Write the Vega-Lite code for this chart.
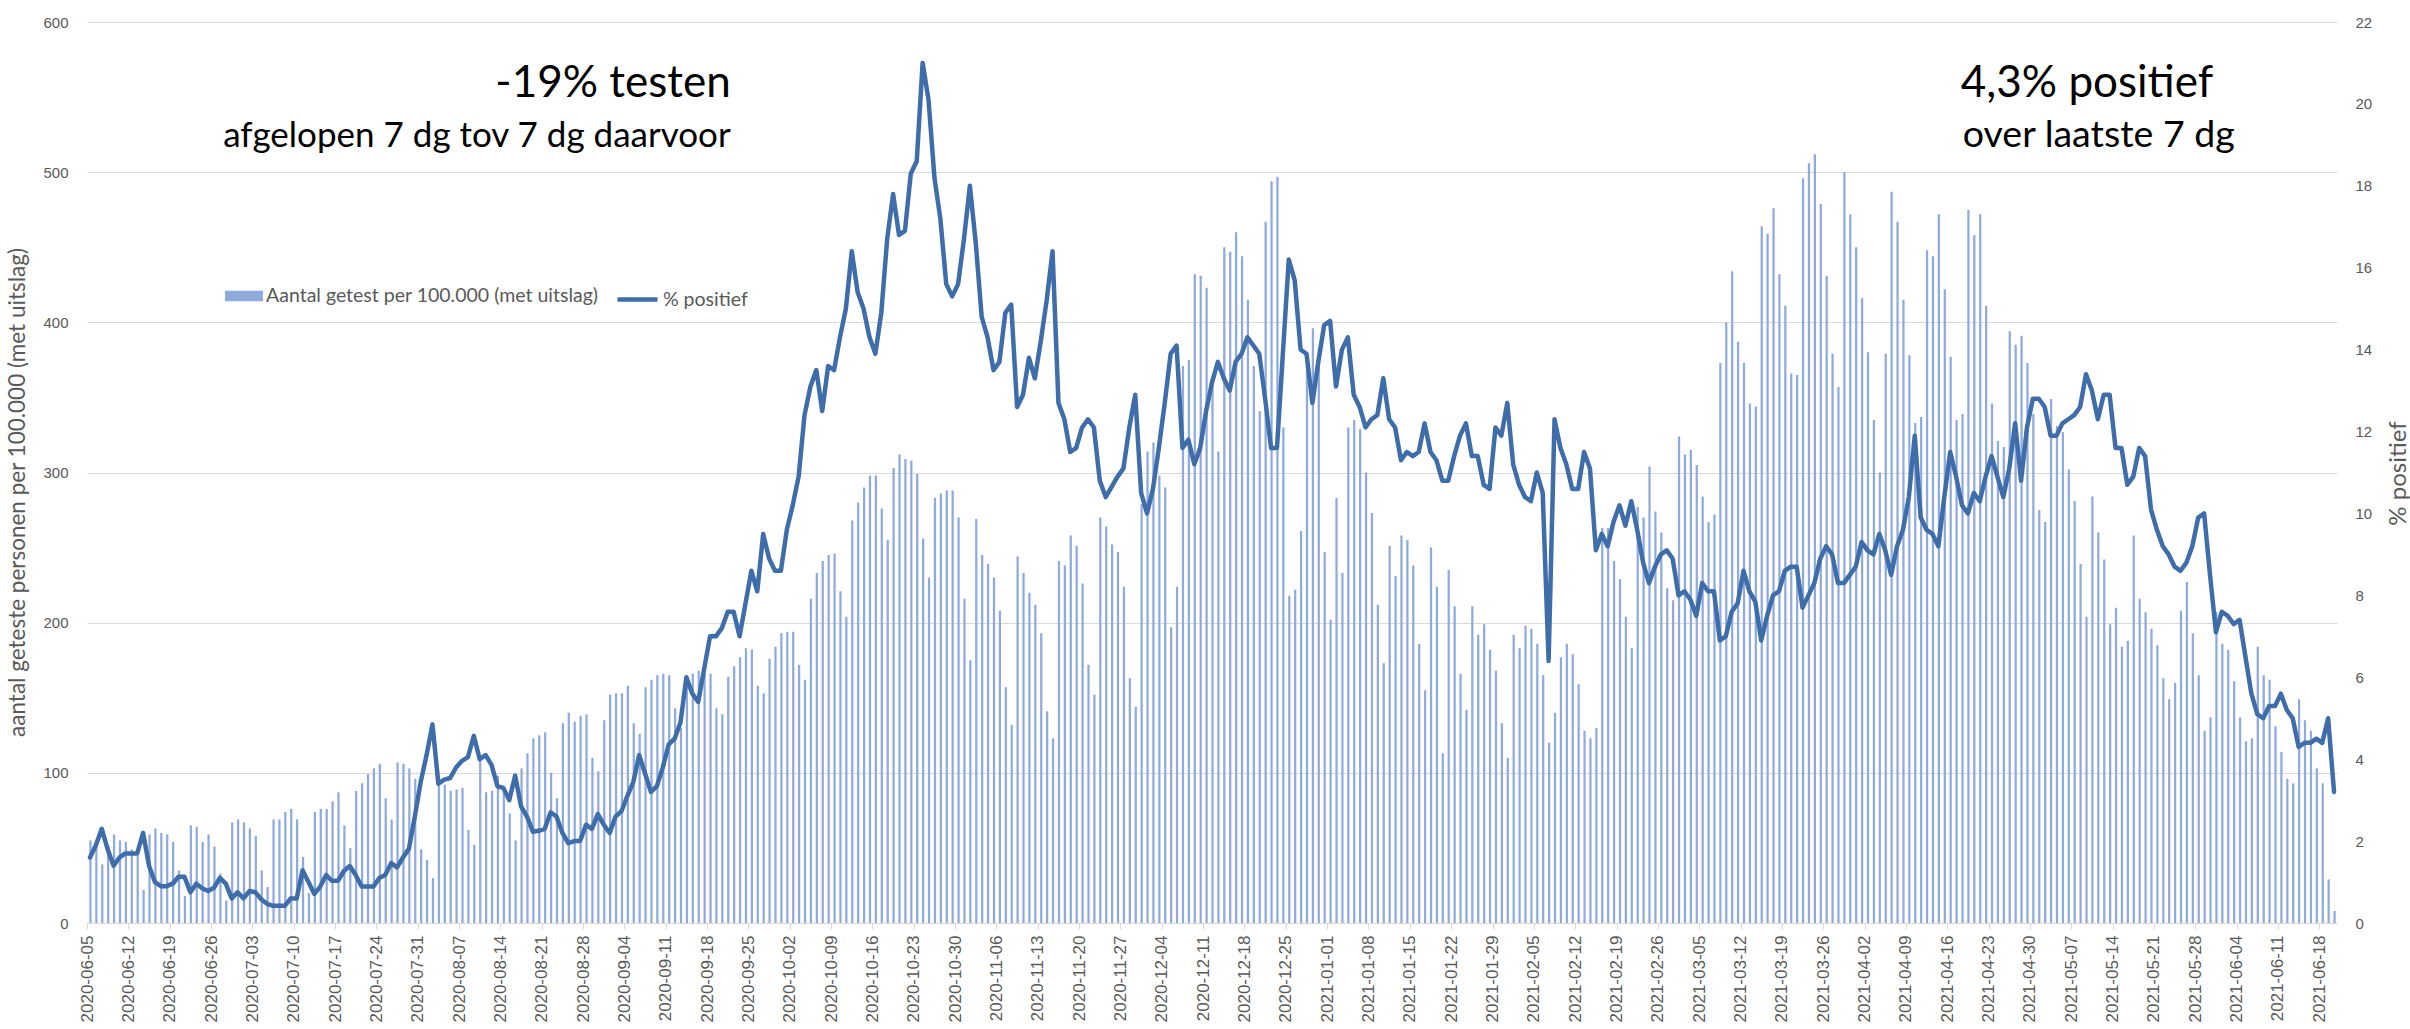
{
"$schema": "https://vega.github.io/schema/vega-lite/v6.json",
"width": 2250, "height": 901,
"autosize": {"type": "none"},
"padding": {"left": 87, "top": 22, "right": 73, "bottom": 106},
"background": "#ffffff",
"config": {"view": {"stroke": null}},
"datasets": {"dagen": [
{"datum":"2020-06-05","getest":55,"pos":1.6},{"datum":"2020-06-06","getest":52,"pos":1.9},{"datum":"2020-06-07","getest":39,"pos":2.3},{"datum":"2020-06-08","getest":52,"pos":1.8},{"datum":"2020-06-09","getest":59,"pos":1.4},{"datum":"2020-06-10","getest":55,"pos":1.6},{"datum":"2020-06-11","getest":54,"pos":1.7},{"datum":"2020-06-12","getest":49,"pos":1.7},{"datum":"2020-06-13","getest":45,"pos":1.7},{"datum":"2020-06-14","getest":22,"pos":2.2},
{"datum":"2020-06-15","getest":59,"pos":1.4},{"datum":"2020-06-16","getest":63,"pos":1.0},{"datum":"2020-06-17","getest":60,"pos":0.9},{"datum":"2020-06-18","getest":59,"pos":0.9},{"datum":"2020-06-19","getest":54,"pos":0.96},{"datum":"2020-06-20","getest":35,"pos":1.13},{"datum":"2020-06-21","getest":18,"pos":1.13},{"datum":"2020-06-22","getest":65,"pos":0.75},{"datum":"2020-06-23","getest":64,"pos":0.96},{"datum":"2020-06-24","getest":54,"pos":0.85},
{"datum":"2020-06-25","getest":59,"pos":0.78},{"datum":"2020-06-26","getest":51,"pos":0.86},{"datum":"2020-06-27","getest":33,"pos":1.1},{"datum":"2020-06-28","getest":15,"pos":0.96},{"datum":"2020-06-29","getest":67,"pos":0.6},{"datum":"2020-06-30","getest":69,"pos":0.75},
{"datum":"2020-07-01","getest":67,"pos":0.6},{"datum":"2020-07-02","getest":63,"pos":0.78},{"datum":"2020-07-03","getest":58,"pos":0.75},{"datum":"2020-07-04","getest":35,"pos":0.58},{"datum":"2020-07-05","getest":24,"pos":0.47},{"datum":"2020-07-06","getest":69,"pos":0.42},{"datum":"2020-07-07","getest":69,"pos":0.42},{"datum":"2020-07-08","getest":74,"pos":0.42},{"datum":"2020-07-09","getest":76,"pos":0.6},{"datum":"2020-07-10","getest":69,"pos":0.6},
{"datum":"2020-07-11","getest":44,"pos":1.29},{"datum":"2020-07-12","getest":20,"pos":1.0},{"datum":"2020-07-13","getest":74,"pos":0.71},{"datum":"2020-07-14","getest":76,"pos":0.89},{"datum":"2020-07-15","getest":76,"pos":1.17},{"datum":"2020-07-16","getest":81,"pos":1.03},{"datum":"2020-07-17","getest":87,"pos":1.03},{"datum":"2020-07-18","getest":65,"pos":1.27},{"datum":"2020-07-19","getest":50,"pos":1.39},{"datum":"2020-07-20","getest":88,"pos":1.17},
{"datum":"2020-07-21","getest":93,"pos":0.89},{"datum":"2020-07-22","getest":99,"pos":0.89},{"datum":"2020-07-23","getest":103,"pos":0.89},{"datum":"2020-07-24","getest":106,"pos":1.1},{"datum":"2020-07-25","getest":83,"pos":1.17},{"datum":"2020-07-26","getest":69,"pos":1.46},{"datum":"2020-07-27","getest":107,"pos":1.36},{"datum":"2020-07-28","getest":106,"pos":1.6},{"datum":"2020-07-29","getest":103,"pos":1.81},{"datum":"2020-07-30","getest":96,"pos":2.59},
{"datum":"2020-07-31","getest":49,"pos":3.44},
{"datum":"2020-08-01","getest":42,"pos":4.1},{"datum":"2020-08-02","getest":30,"pos":4.85},{"datum":"2020-08-03","getest":92,"pos":3.4},{"datum":"2020-08-04","getest":92,"pos":3.5},{"datum":"2020-08-05","getest":88,"pos":3.54},{"datum":"2020-08-06","getest":89,"pos":3.8},{"datum":"2020-08-07","getest":90,"pos":3.96},{"datum":"2020-08-08","getest":62,"pos":4.05},{"datum":"2020-08-09","getest":52,"pos":4.57},
{"datum":"2020-08-10","getest":108,"pos":4.0},{"datum":"2020-08-11","getest":87,"pos":4.1},{"datum":"2020-08-12","getest":88,"pos":3.86},{"datum":"2020-08-13","getest":98,"pos":3.34},{"datum":"2020-08-14","getest":87,"pos":3.3},{"datum":"2020-08-15","getest":73,"pos":3.0},{"datum":"2020-08-16","getest":55,"pos":3.6},{"datum":"2020-08-17","getest":103,"pos":2.85},{"datum":"2020-08-18","getest":113,"pos":2.6},{"datum":"2020-08-19","getest":123,"pos":2.23},
{"datum":"2020-08-20","getest":125,"pos":2.25},{"datum":"2020-08-21","getest":127,"pos":2.3},{"datum":"2020-08-22","getest":100,"pos":2.7},{"datum":"2020-08-23","getest":83,"pos":2.6},{"datum":"2020-08-24","getest":133,"pos":2.2},{"datum":"2020-08-25","getest":140,"pos":1.95},{"datum":"2020-08-26","getest":134,"pos":2.0},{"datum":"2020-08-27","getest":138,"pos":2.0},{"datum":"2020-08-28","getest":139,"pos":2.4},{"datum":"2020-08-29","getest":110,"pos":2.3},
{"datum":"2020-08-30","getest":101,"pos":2.66},{"datum":"2020-08-31","getest":135,"pos":2.4},
{"datum":"2020-09-01","getest":152,"pos":2.2},{"datum":"2020-09-02","getest":153,"pos":2.6},{"datum":"2020-09-03","getest":153,"pos":2.73},{"datum":"2020-09-04","getest":158,"pos":3.1},{"datum":"2020-09-05","getest":133,"pos":3.44},{"datum":"2020-09-06","getest":126,"pos":4.1},{"datum":"2020-09-07","getest":157,"pos":3.65},{"datum":"2020-09-08","getest":162,"pos":3.2},
{"datum":"2020-09-09","getest":165,"pos":3.34},{"datum":"2020-09-10","getest":166,"pos":3.8},{"datum":"2020-09-11","getest":165,"pos":4.36},{"datum":"2020-09-12","getest":143,"pos":4.5},{"datum":"2020-09-13","getest":130,"pos":4.9},{"datum":"2020-09-14","getest":157,"pos":6.0},{"datum":"2020-09-15","getest":166,"pos":5.6},{"datum":"2020-09-16","getest":168,"pos":5.4},{"datum":"2020-09-17","getest":166,"pos":6.2},{"datum":"2020-09-18","getest":166,"pos":7.0},
{"datum":"2020-09-19","getest":143,"pos":7.0},{"datum":"2020-09-20","getest":139,"pos":7.2},{"datum":"2020-09-21","getest":164,"pos":7.6},{"datum":"2020-09-22","getest":171,"pos":7.6},{"datum":"2020-09-23","getest":177,"pos":7.0},{"datum":"2020-09-24","getest":183,"pos":7.8},{"datum":"2020-09-25","getest":182,"pos":8.6},{"datum":"2020-09-26","getest":158,"pos":8.1},{"datum":"2020-09-27","getest":153,"pos":9.5},{"datum":"2020-09-28","getest":176,"pos":8.9},
{"datum":"2020-09-29","getest":184,"pos":8.6},{"datum":"2020-09-30","getest":193,"pos":8.6},
{"datum":"2020-10-01","getest":194,"pos":9.6},{"datum":"2020-10-02","getest":194,"pos":10.2},{"datum":"2020-10-03","getest":172,"pos":10.9},{"datum":"2020-10-04","getest":162,"pos":12.4},{"datum":"2020-10-05","getest":216,"pos":13.1},{"datum":"2020-10-06","getest":233,"pos":13.5},{"datum":"2020-10-07","getest":241,"pos":12.5},{"datum":"2020-10-08","getest":245,"pos":13.6},
{"datum":"2020-10-09","getest":246,"pos":13.5},{"datum":"2020-10-10","getest":221,"pos":14.3},{"datum":"2020-10-11","getest":204,"pos":15.0},{"datum":"2020-10-12","getest":268,"pos":16.4},{"datum":"2020-10-13","getest":280,"pos":15.4},{"datum":"2020-10-14","getest":290,"pos":15.0},{"datum":"2020-10-15","getest":298,"pos":14.3},{"datum":"2020-10-16","getest":298,"pos":13.9},{"datum":"2020-10-17","getest":276,"pos":14.9},{"datum":"2020-10-18","getest":255,"pos":16.7},
{"datum":"2020-10-19","getest":303,"pos":17.8},{"datum":"2020-10-20","getest":312,"pos":16.8},{"datum":"2020-10-21","getest":309,"pos":16.9},{"datum":"2020-10-22","getest":308,"pos":18.3},{"datum":"2020-10-23","getest":299,"pos":18.6},{"datum":"2020-10-24","getest":256,"pos":21.0},{"datum":"2020-10-25","getest":230,"pos":20.1},{"datum":"2020-10-26","getest":283,"pos":18.2},{"datum":"2020-10-27","getest":286,"pos":17.2},{"datum":"2020-10-28","getest":288,"pos":15.6},
{"datum":"2020-10-29","getest":288,"pos":15.3},{"datum":"2020-10-30","getest":270,"pos":15.6},{"datum":"2020-10-31","getest":216,"pos":16.7},
{"datum":"2020-11-01","getest":175,"pos":18.0},{"datum":"2020-11-02","getest":269,"pos":16.6},{"datum":"2020-11-03","getest":245,"pos":14.8},{"datum":"2020-11-04","getest":239,"pos":14.3},{"datum":"2020-11-05","getest":230,"pos":13.5},{"datum":"2020-11-06","getest":208,"pos":13.7},{"datum":"2020-11-07","getest":157,"pos":14.9},
{"datum":"2020-11-08","getest":132,"pos":15.1},{"datum":"2020-11-09","getest":244,"pos":12.6},{"datum":"2020-11-10","getest":233,"pos":12.9},{"datum":"2020-11-11","getest":220,"pos":13.8},{"datum":"2020-11-12","getest":212,"pos":13.3},{"datum":"2020-11-13","getest":193,"pos":14.2},{"datum":"2020-11-14","getest":141,"pos":15.2},{"datum":"2020-11-15","getest":123,"pos":16.4},{"datum":"2020-11-16","getest":241,"pos":12.7},{"datum":"2020-11-17","getest":238,"pos":12.3},
{"datum":"2020-11-18","getest":258,"pos":11.5},{"datum":"2020-11-19","getest":251,"pos":11.6},{"datum":"2020-11-20","getest":226,"pos":12.1},{"datum":"2020-11-21","getest":172,"pos":12.3},{"datum":"2020-11-22","getest":152,"pos":12.1},{"datum":"2020-11-23","getest":270,"pos":10.8},{"datum":"2020-11-24","getest":264,"pos":10.4},{"datum":"2020-11-25","getest":252,"pos":10.65},{"datum":"2020-11-26","getest":247,"pos":10.9},{"datum":"2020-11-27","getest":224,"pos":11.1},
{"datum":"2020-11-28","getest":163,"pos":12.1},{"datum":"2020-11-29","getest":144,"pos":12.9},{"datum":"2020-11-30","getest":279,"pos":10.5},
{"datum":"2020-12-01","getest":314,"pos":10.0},{"datum":"2020-12-02","getest":320,"pos":10.6},{"datum":"2020-12-03","getest":298,"pos":11.6},{"datum":"2020-12-04","getest":290,"pos":12.7},{"datum":"2020-12-05","getest":197,"pos":13.9},{"datum":"2020-12-06","getest":224,"pos":14.1},{"datum":"2020-12-07","getest":371,"pos":11.6},
{"datum":"2020-12-08","getest":375,"pos":11.8},{"datum":"2020-12-09","getest":432,"pos":11.2},{"datum":"2020-12-10","getest":431,"pos":11.6},{"datum":"2020-12-11","getest":423,"pos":12.5},{"datum":"2020-12-12","getest":362,"pos":13.2},{"datum":"2020-12-13","getest":314,"pos":13.7},{"datum":"2020-12-14","getest":450,"pos":13.3},{"datum":"2020-12-15","getest":447,"pos":13.0},{"datum":"2020-12-16","getest":460,"pos":13.7},{"datum":"2020-12-17","getest":444,"pos":13.9},
{"datum":"2020-12-18","getest":415,"pos":14.3},{"datum":"2020-12-19","getest":371,"pos":14.1},{"datum":"2020-12-20","getest":341,"pos":13.9},{"datum":"2020-12-21","getest":467,"pos":12.8},{"datum":"2020-12-22","getest":494,"pos":11.6},{"datum":"2020-12-23","getest":497,"pos":11.6},{"datum":"2020-12-24","getest":330,"pos":13.9},{"datum":"2020-12-25","getest":218,"pos":16.2},{"datum":"2020-12-26","getest":222,"pos":15.7},{"datum":"2020-12-27","getest":261,"pos":14.0},
{"datum":"2020-12-28","getest":380,"pos":13.9},{"datum":"2020-12-29","getest":396,"pos":12.7},{"datum":"2020-12-30","getest":383,"pos":13.7},{"datum":"2020-12-31","getest":247,"pos":14.6},
{"datum":"2021-01-01","getest":202,"pos":14.7},{"datum":"2021-01-02","getest":283,"pos":13.1},{"datum":"2021-01-03","getest":233,"pos":14.0},{"datum":"2021-01-04","getest":330,"pos":14.3},{"datum":"2021-01-05","getest":335,"pos":12.9},{"datum":"2021-01-06","getest":329,"pos":12.6},
{"datum":"2021-01-07","getest":300,"pos":12.1},{"datum":"2021-01-08","getest":273,"pos":12.3},{"datum":"2021-01-09","getest":212,"pos":12.4},{"datum":"2021-01-10","getest":173,"pos":13.3},{"datum":"2021-01-11","getest":251,"pos":12.3},{"datum":"2021-01-12","getest":231,"pos":12.1},{"datum":"2021-01-13","getest":258,"pos":11.3},{"datum":"2021-01-14","getest":255,"pos":11.5},{"datum":"2021-01-15","getest":238,"pos":11.4},{"datum":"2021-01-16","getest":186,"pos":11.5},
{"datum":"2021-01-17","getest":155,"pos":12.2},{"datum":"2021-01-18","getest":250,"pos":11.5},{"datum":"2021-01-19","getest":224,"pos":11.3},{"datum":"2021-01-20","getest":113,"pos":10.8},{"datum":"2021-01-21","getest":235,"pos":10.8},{"datum":"2021-01-22","getest":211,"pos":11.4},{"datum":"2021-01-23","getest":166,"pos":11.9},{"datum":"2021-01-24","getest":142,"pos":12.2},{"datum":"2021-01-25","getest":211,"pos":11.4},{"datum":"2021-01-26","getest":192,"pos":11.4},
{"datum":"2021-01-27","getest":199,"pos":10.7},{"datum":"2021-01-28","getest":182,"pos":10.6},{"datum":"2021-01-29","getest":168,"pos":12.1},{"datum":"2021-01-30","getest":133,"pos":11.9},{"datum":"2021-01-31","getest":110,"pos":12.7},
{"datum":"2021-02-01","getest":192,"pos":11.2},{"datum":"2021-02-02","getest":183,"pos":10.7},{"datum":"2021-02-03","getest":198,"pos":10.4},{"datum":"2021-02-04","getest":196,"pos":10.3},{"datum":"2021-02-05","getest":186,"pos":11.0},
{"datum":"2021-02-06","getest":165,"pos":10.5},{"datum":"2021-02-07","getest":120,"pos":6.4},{"datum":"2021-02-08","getest":140,"pos":12.3},{"datum":"2021-02-09","getest":177,"pos":11.6},{"datum":"2021-02-10","getest":186,"pos":11.2},{"datum":"2021-02-11","getest":179,"pos":10.6},{"datum":"2021-02-12","getest":159,"pos":10.6},{"datum":"2021-02-13","getest":128,"pos":11.5},{"datum":"2021-02-14","getest":123,"pos":11.1},{"datum":"2021-02-15","getest":130,"pos":9.1},
{"datum":"2021-02-16","getest":263,"pos":9.5},{"datum":"2021-02-17","getest":263,"pos":9.2},{"datum":"2021-02-18","getest":241,"pos":9.8},{"datum":"2021-02-19","getest":229,"pos":10.2},{"datum":"2021-02-20","getest":204,"pos":9.7},{"datum":"2021-02-21","getest":183,"pos":10.3},{"datum":"2021-02-22","getest":277,"pos":9.6},{"datum":"2021-02-23","getest":270,"pos":8.8},{"datum":"2021-02-24","getest":304,"pos":8.3},{"datum":"2021-02-25","getest":274,"pos":8.7},
{"datum":"2021-02-26","getest":260,"pos":9.0},{"datum":"2021-02-27","getest":223,"pos":9.1},{"datum":"2021-02-28","getest":215,"pos":8.9},
{"datum":"2021-03-01","getest":324,"pos":8.0},{"datum":"2021-03-02","getest":312,"pos":8.1},{"datum":"2021-03-03","getest":315,"pos":7.9},{"datum":"2021-03-04","getest":305,"pos":7.5},{"datum":"2021-03-05","getest":284,"pos":8.3},{"datum":"2021-03-06","getest":267,"pos":8.1},{"datum":"2021-03-07","getest":272,"pos":8.1},
{"datum":"2021-03-08","getest":373,"pos":6.9},{"datum":"2021-03-09","getest":400,"pos":7.0},{"datum":"2021-03-10","getest":434,"pos":7.6},{"datum":"2021-03-11","getest":387,"pos":7.8},{"datum":"2021-03-12","getest":373,"pos":8.6},{"datum":"2021-03-13","getest":346,"pos":8.1},{"datum":"2021-03-14","getest":344,"pos":7.85},{"datum":"2021-03-15","getest":464,"pos":6.9},{"datum":"2021-03-16","getest":459,"pos":7.5},{"datum":"2021-03-17","getest":476,"pos":8.0},
{"datum":"2021-03-18","getest":432,"pos":8.1},{"datum":"2021-03-19","getest":411,"pos":8.6},{"datum":"2021-03-20","getest":366,"pos":8.7},{"datum":"2021-03-21","getest":365,"pos":8.7},{"datum":"2021-03-22","getest":496,"pos":7.7},{"datum":"2021-03-23","getest":506,"pos":8.0},{"datum":"2021-03-24","getest":512,"pos":8.3},{"datum":"2021-03-25","getest":479,"pos":8.9},{"datum":"2021-03-26","getest":431,"pos":9.2},{"datum":"2021-03-27","getest":379,"pos":9.0},
{"datum":"2021-03-28","getest":357,"pos":8.3},{"datum":"2021-03-29","getest":500,"pos":8.3},{"datum":"2021-03-30","getest":472,"pos":8.5},{"datum":"2021-03-31","getest":450,"pos":8.7},
{"datum":"2021-04-01","getest":416,"pos":9.3},{"datum":"2021-04-02","getest":380,"pos":9.1},{"datum":"2021-04-03","getest":335,"pos":9.0},{"datum":"2021-04-04","getest":300,"pos":9.5},{"datum":"2021-04-05","getest":379,"pos":9.1},{"datum":"2021-04-06","getest":487,"pos":8.5},
{"datum":"2021-04-07","getest":467,"pos":9.2},{"datum":"2021-04-08","getest":415,"pos":9.6},{"datum":"2021-04-09","getest":378,"pos":10.4},{"datum":"2021-04-10","getest":333,"pos":11.9},{"datum":"2021-04-11","getest":337,"pos":9.9},{"datum":"2021-04-12","getest":448,"pos":9.6},{"datum":"2021-04-13","getest":444,"pos":9.5},{"datum":"2021-04-14","getest":472,"pos":9.2},{"datum":"2021-04-15","getest":422,"pos":10.4},{"datum":"2021-04-16","getest":377,"pos":11.5},
{"datum":"2021-04-17","getest":335,"pos":10.9},{"datum":"2021-04-18","getest":339,"pos":10.2},{"datum":"2021-04-19","getest":475,"pos":10.0},{"datum":"2021-04-20","getest":458,"pos":10.5},{"datum":"2021-04-21","getest":472,"pos":10.3},{"datum":"2021-04-22","getest":411,"pos":10.9},{"datum":"2021-04-23","getest":346,"pos":11.4},{"datum":"2021-04-24","getest":321,"pos":10.9},{"datum":"2021-04-25","getest":317,"pos":10.4},{"datum":"2021-04-26","getest":394,"pos":11.1},
{"datum":"2021-04-27","getest":385,"pos":12.2},{"datum":"2021-04-28","getest":391,"pos":10.8},{"datum":"2021-04-29","getest":373,"pos":12.1},{"datum":"2021-04-30","getest":339,"pos":12.8},
{"datum":"2021-05-01","getest":275,"pos":12.8},{"datum":"2021-05-02","getest":267,"pos":12.6},{"datum":"2021-05-03","getest":349,"pos":11.9},{"datum":"2021-05-04","getest":331,"pos":11.9},{"datum":"2021-05-05","getest":327,"pos":12.2},{"datum":"2021-05-06","getest":302,"pos":12.3},
{"datum":"2021-05-07","getest":281,"pos":12.4},{"datum":"2021-05-08","getest":239,"pos":12.6},{"datum":"2021-05-09","getest":204,"pos":13.4},{"datum":"2021-05-10","getest":284,"pos":13.0},{"datum":"2021-05-11","getest":260,"pos":12.3},{"datum":"2021-05-12","getest":242,"pos":12.9},{"datum":"2021-05-13","getest":199,"pos":12.9},{"datum":"2021-05-14","getest":210,"pos":11.6},{"datum":"2021-05-15","getest":184,"pos":11.6},{"datum":"2021-05-16","getest":188,"pos":10.7},
{"datum":"2021-05-17","getest":258,"pos":10.9},{"datum":"2021-05-18","getest":216,"pos":11.6},{"datum":"2021-05-19","getest":207,"pos":11.4},{"datum":"2021-05-20","getest":196,"pos":10.1},{"datum":"2021-05-21","getest":185,"pos":9.6},{"datum":"2021-05-22","getest":163,"pos":9.2},{"datum":"2021-05-23","getest":149,"pos":9.0},{"datum":"2021-05-24","getest":160,"pos":8.7},{"datum":"2021-05-25","getest":208,"pos":8.6},{"datum":"2021-05-26","getest":227,"pos":8.8},
{"datum":"2021-05-27","getest":193,"pos":9.2},{"datum":"2021-05-28","getest":165,"pos":9.9},{"datum":"2021-05-29","getest":128,"pos":10.0},{"datum":"2021-05-30","getest":137,"pos":8.5},{"datum":"2021-05-31","getest":207,"pos":7.1},
{"datum":"2021-06-01","getest":186,"pos":7.6},{"datum":"2021-06-02","getest":182,"pos":7.5},{"datum":"2021-06-03","getest":161,"pos":7.3},{"datum":"2021-06-04","getest":137,"pos":7.4},{"datum":"2021-06-05","getest":121,"pos":6.5},
{"datum":"2021-06-06","getest":123,"pos":5.6},{"datum":"2021-06-07","getest":184,"pos":5.1},{"datum":"2021-06-08","getest":165,"pos":5.0},{"datum":"2021-06-09","getest":162,"pos":5.3},{"datum":"2021-06-10","getest":131,"pos":5.3},{"datum":"2021-06-11","getest":114,"pos":5.6},{"datum":"2021-06-12","getest":96,"pos":5.2},{"datum":"2021-06-13","getest":93,"pos":5.0},{"datum":"2021-06-14","getest":149,"pos":4.3},{"datum":"2021-06-15","getest":135,"pos":4.4},
{"datum":"2021-06-16","getest":128,"pos":4.4},{"datum":"2021-06-17","getest":103,"pos":4.5},{"datum":"2021-06-18","getest":93,"pos":4.4},{"datum":"2021-06-19","getest":29,"pos":5.0},{"datum":"2021-06-20","getest":8,"pos":3.2}
]},
"layer": [
{
"data": {"name": "dagen"},
"mark": {"type": "bar", "width": {"band": 0.55}},
"encoding": {
"x": {"field": "datum", "type": "temporal", "timeUnit": "utcyearmonthdate", "title": null,
"scale": {"type": "utc", "domain": [{"year":2020,"month":6,"date":5,"utc":true},{"year":2021,"month":6,"date":21,"utc":true}]},
"axis": {"orient": "bottom", "values": [
{"year":2020,"month":6,"date":5,"utc":true},{"year":2020,"month":6,"date":12,"utc":true},{"year":2020,"month":6,"date":19,"utc":true},{"year":2020,"month":6,"date":26,"utc":true},
{"year":2020,"month":7,"date":3,"utc":true},{"year":2020,"month":7,"date":10,"utc":true},{"year":2020,"month":7,"date":17,"utc":true},{"year":2020,"month":7,"date":24,"utc":true},{"year":2020,"month":7,"date":31,"utc":true},
{"year":2020,"month":8,"date":7,"utc":true},{"year":2020,"month":8,"date":14,"utc":true},{"year":2020,"month":8,"date":21,"utc":true},{"year":2020,"month":8,"date":28,"utc":true},
{"year":2020,"month":9,"date":4,"utc":true},{"year":2020,"month":9,"date":11,"utc":true},{"year":2020,"month":9,"date":18,"utc":true},{"year":2020,"month":9,"date":25,"utc":true},
{"year":2020,"month":10,"date":2,"utc":true},{"year":2020,"month":10,"date":9,"utc":true},{"year":2020,"month":10,"date":16,"utc":true},{"year":2020,"month":10,"date":23,"utc":true},{"year":2020,"month":10,"date":30,"utc":true},
{"year":2020,"month":11,"date":6,"utc":true},{"year":2020,"month":11,"date":13,"utc":true},{"year":2020,"month":11,"date":20,"utc":true},{"year":2020,"month":11,"date":27,"utc":true},
{"year":2020,"month":12,"date":4,"utc":true},{"year":2020,"month":12,"date":11,"utc":true},{"year":2020,"month":12,"date":18,"utc":true},{"year":2020,"month":12,"date":25,"utc":true},
{"year":2021,"month":1,"date":1,"utc":true},{"year":2021,"month":1,"date":8,"utc":true},{"year":2021,"month":1,"date":15,"utc":true},{"year":2021,"month":1,"date":22,"utc":true},{"year":2021,"month":1,"date":29,"utc":true},
{"year":2021,"month":2,"date":5,"utc":true},{"year":2021,"month":2,"date":12,"utc":true},{"year":2021,"month":2,"date":19,"utc":true},{"year":2021,"month":2,"date":26,"utc":true},
{"year":2021,"month":3,"date":5,"utc":true},{"year":2021,"month":3,"date":12,"utc":true},{"year":2021,"month":3,"date":19,"utc":true},{"year":2021,"month":3,"date":26,"utc":true},
{"year":2021,"month":4,"date":2,"utc":true},{"year":2021,"month":4,"date":9,"utc":true},{"year":2021,"month":4,"date":16,"utc":true},{"year":2021,"month":4,"date":23,"utc":true},{"year":2021,"month":4,"date":30,"utc":true},
{"year":2021,"month":5,"date":7,"utc":true},{"year":2021,"month":5,"date":14,"utc":true},{"year":2021,"month":5,"date":21,"utc":true},{"year":2021,"month":5,"date":28,"utc":true},
{"year":2021,"month":6,"date":4,"utc":true},{"year":2021,"month":6,"date":11,"utc":true},{"year":2021,"month":6,"date":18,"utc":true}],
"labelExpr": "utcFormat(datum.value, '%Y-%m-%d')", "labelAngle": -90, "labelAlign": "right", "labelBaseline": "middle", "labelFont": "Liberation Sans", "labelFontSize": 17, "labelColor": "#595959", "labelPadding": 6,
"tickSize": 6, "tickColor": "#d9d9d9", "domainColor": "#d9d9d9", "grid": false, "labelOverlap": false, "labelFlush": false, "labelBound": false}},
"y": {"field": "getest", "type": "quantitative", "scale": {"domain": [0, 600], "nice": false},
"axis": {"orient": "left", "values": [0,100,200,300,400,500,600], "grid": true, "gridColor": "#d9d9d9", "gridWidth": 1.2, "domain": false, "ticks": false,
"labelFont": "Liberation Sans", "labelFontSize": 15, "labelColor": "#595959", "labelPadding": 19,
"title": "aantal geteste personen per 100.000 (met uitslag)", "titleFont": "Lato", "titleFontSize": 22.5, "titleFontWeight": "normal", "titleColor": "#595959",
"titleAngle": -90, "titleX": -70, "titleY": 470, "titleAlign": "center", "titleBaseline": "middle"}},
"fill": {"datum": "Aantal getest per 100.000 (met uitslag)", "type": "nominal", "scale": {"range": ["#8FAADC"]},
"legend": {"orient": "none", "legendX": 138, "legendY": 255, "title": null, "padding": 0, "symbolType": "M-1,-0.27H1V0.27H-1Z", "symbolSize": 1444, "symbolStrokeWidth": 0,
"labelFont": "Lato", "labelFontSize": 19.5, "labelColor": "#595959", "labelOffset": 3, "labelLimit": 700}}
}
},
{
"data": {"name": "dagen"},
"mark": {"type": "line", "strokeWidth": 4.5, "strokeJoin": "round", "strokeCap": "round"},
"encoding": {
"x": {"field": "datum", "type": "temporal", "timeUnit": "utcyearmonthdate", "bandPosition": 0.5, "title": null, "scale": {"type": "utc"}},
"y": {"field": "pos", "type": "quantitative", "scale": {"domain": [0, 22], "nice": false},
"axis": {"orient": "right", "values": [0,2,4,6,8,10,12,14,16,18,20,22], "grid": false, "domain": false, "ticks": false,
"labelFont": "Liberation Sans", "labelFontSize": 15, "labelColor": "#595959", "labelPadding": 18,
"title": "% positief", "titleFont": "Lato", "titleFontSize": 24, "titleFontWeight": "normal", "titleColor": "#595959",
"titleAngle": -90, "titleX": 61, "titleY": 451, "titleAlign": "center", "titleBaseline": "middle"}},
"stroke": {"datum": "% positief", "type": "nominal", "scale": {"range": ["#3E6DA9"]},
"legend": {"orient": "none", "legendX": 528, "legendY": 255, "title": null, "padding": 0, "symbolType": "stroke", "symbolSize": 1600, "symbolStrokeWidth": 4.5,
"labelFont": "Lato", "labelFontSize": 19.5, "labelColor": "#595959", "labelOffset": 3, "labelLimit": 300}}
}
},
{
"data": {"values": [{"tekst": "-19% testen"}]},
"mark": {"type": "text", "align": "right", "baseline": "alphabetic", "font": "Lato", "fontSize": 44, "color": "#000000"},
"encoding": {
"x": {"datum": {"year":2020,"month":9,"date":22,"utc":true}, "type": "temporal", "title": null, "scale": {"type": "utc"}},
"y": {"datum": 550, "type": "quantitative", "scale": {"domain": [0, 600], "nice": false}, "axis": null},
"text": {"field": "tekst", "type": "nominal"}
}
},
{
"data": {"values": [{"tekst": "afgelopen 7 dg tov 7 dg daarvoor"}]},
"mark": {"type": "text", "align": "right", "baseline": "alphabetic", "font": "Lato", "fontSize": 35, "color": "#000000"},
"encoding": {
"x": {"datum": {"year":2020,"month":9,"date":22,"utc":true}, "type": "temporal", "title": null, "scale": {"type": "utc"}},
"y": {"datum": 517, "type": "quantitative", "scale": {"domain": [0, 600], "nice": false}, "axis": null},
"text": {"field": "tekst", "type": "nominal"}
}
},
{
"data": {"values": [{"tekst": "4,3% positief"}]},
"mark": {"type": "text", "align": "center", "baseline": "alphabetic", "font": "Lato", "fontSize": 44, "color": "#000000"},
"encoding": {
"x": {"datum": {"year":2021,"month":5,"date":9,"hours":16,"utc":true}, "type": "temporal", "title": null, "scale": {"type": "utc"}},
"y": {"datum": 550, "type": "quantitative", "scale": {"domain": [0, 600], "nice": false}, "axis": null},
"text": {"field": "tekst", "type": "nominal"}
}
},
{
"data": {"values": [{"tekst": "over laatste 7 dg"}]},
"mark": {"type": "text", "align": "center", "baseline": "alphabetic", "font": "Lato", "fontSize": 37.5, "color": "#000000"},
"encoding": {
"x": {"datum": {"year":2021,"month":5,"date":11,"hours":16,"utc":true}, "type": "temporal", "title": null, "scale": {"type": "utc"}},
"y": {"datum": 517, "type": "quantitative", "scale": {"domain": [0, 600], "nice": false}, "axis": null},
"text": {"field": "tekst", "type": "nominal"}
}
}
],
"resolve": {"scale": {"y": "independent", "fill": "independent", "stroke": "independent"}}
}
